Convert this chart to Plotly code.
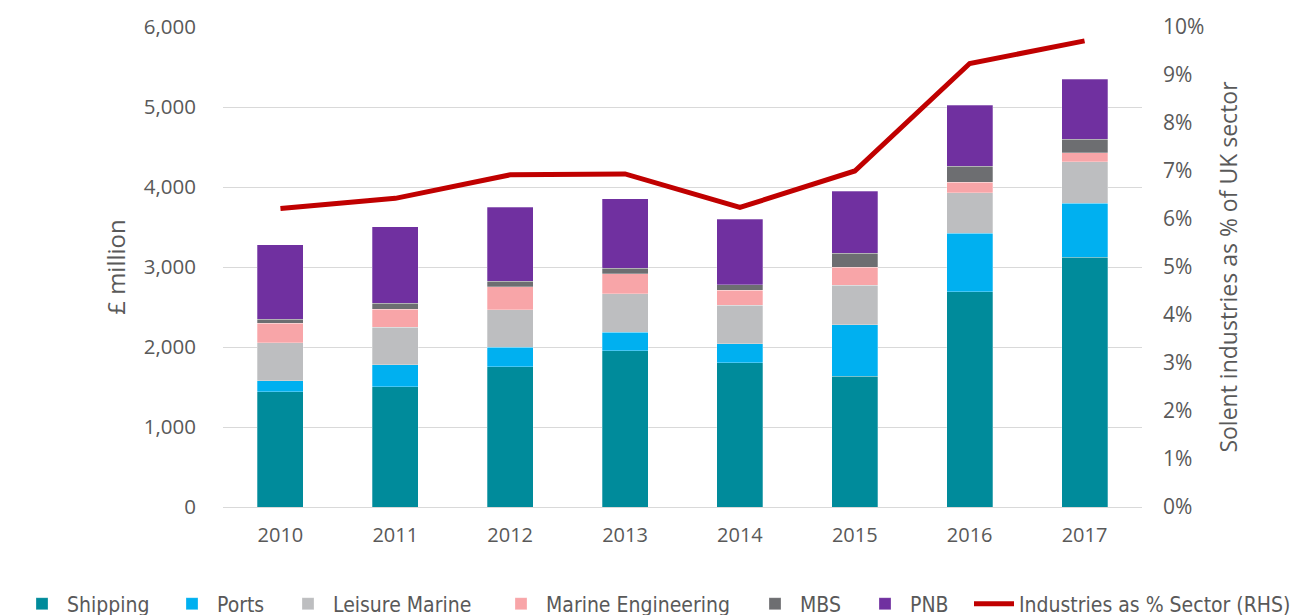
import plotly.graph_objects as go

years = ["2010", "2011", "2012", "2013", "2014", "2015", "2016", "2017"]
shipping = [1440, 1505, 1755, 1955, 1805, 1635, 2690, 3125]
ports = [140, 275, 240, 230, 235, 645, 735, 675]
leisure = [475, 465, 470, 480, 480, 490, 505, 515]
marine_eng = [245, 225, 290, 250, 190, 230, 130, 115]
mbs = [50, 75, 70, 70, 70, 170, 200, 165]
pnb = [930, 960, 920, 870, 820, 775, 765, 750]
pct_sector = [0.0622, 0.0643, 0.0692, 0.0694, 0.0624, 0.0700, 0.0924, 0.0971]

series = [
    ("Shipping", shipping, "#008b9b"),
    ("Ports", ports, "#00b0f0"),
    ("Leisure Marine", leisure, "#bdbec0"),
    ("Marine Engineering", marine_eng, "#f8a5a8"),
    ("MBS", mbs, "#6d6e71"),
    ("PNB", pnb, "#7030a0"),
]
line_name = "Industries as % Sector (RHS)"

FONT = "Open Sans"
GREY = "#595959"
LEG_FONT = "DejaVu Sans Condensed, Roboto, Open Sans"

L, T, R, B = 215, 19, 164, 116
PW = 1298 - L - R
PH = 615 - T - B
ITEMW = 40
# left edge (page px) where each legend entry's text starts
text_starts = [67, 217, 333, 546, 800, 910, 1019]
leg_y = (PH - (596 - T)) / PH

fig = go.Figure()
legend_ids = ["legend"] + ["legend%d" % i for i in range(2, 8)]
for i, (name, vals, col) in enumerate(series):
    fig.add_trace(go.Bar(
        x=years, y=vals, name=name,
        marker=dict(color=col, line=dict(color="rgba(255,255,255,0.35)", width=0.8)),
        legend=legend_ids[i], showlegend=True,
    ))

fig.add_trace(go.Scatter(
    x=years, y=pct_sector, name=line_name,
    mode="lines", line=dict(color="#c00000", width=5),
    yaxis="y2", legend=legend_ids[6], showlegend=True,
))

legends = {}
for i, lid in enumerate(legend_ids):
    left_paper = text_starts[i] - (ITEMW + 10) - 8
    legends[lid] = dict(
        orientation="h",
        x=(left_paper - L) / PW, xanchor="left",
        y=leg_y, yanchor="middle",
        font=dict(family=LEG_FONT, size=21, color=GREY),
        itemwidth=ITEMW,
        bgcolor="rgba(0,0,0,0)",
    )

fig.update_layout(
    showlegend=True,
    barmode="stack",
    bargap=0.6,
    width=1298, height=615,
    margin=dict(l=L, r=R, t=T, b=B, autoexpand=False),
    plot_bgcolor="white",
    paper_bgcolor="white",
    font=dict(family=FONT, size=20, color=GREY),
    xaxis=dict(
        type="category",
        showgrid=False,
        showline=False,
        ticks="",
        ticklabelstandoff=14,
        tickfont=dict(size=20, color=GREY),
    ),
    yaxis=dict(
        range=[0, 6000],
        dtick=1000,
        tickformat=",",
        showgrid=True,
        gridcolor="#d9d9d9",
        gridwidth=1.3,
        zeroline=True,
        zerolinecolor="#d9d9d9",
        zerolinewidth=1.3,
        ticks="",
        ticklabelstandoff=26,
        title=dict(text="£ million", font=dict(size=24, color=GREY), standoff=11),
        tickfont=dict(size=20.5, color=GREY),
    ),
    yaxis2=dict(
        overlaying="y",
        side="right",
        range=[0, 0.10],
        dtick=0.01,
        tickformat=".0%",
        showgrid=False,
        zeroline=False,
        ticks="",
        ticklabelstandoff=20,
        title=dict(text="Solent industries as % of UK sector", font=dict(size=23, color=GREY), standoff=17),
        tickfont=dict(size=21, color=GREY),
    ),
    **legends,
)

fig.write_html("out.html")
